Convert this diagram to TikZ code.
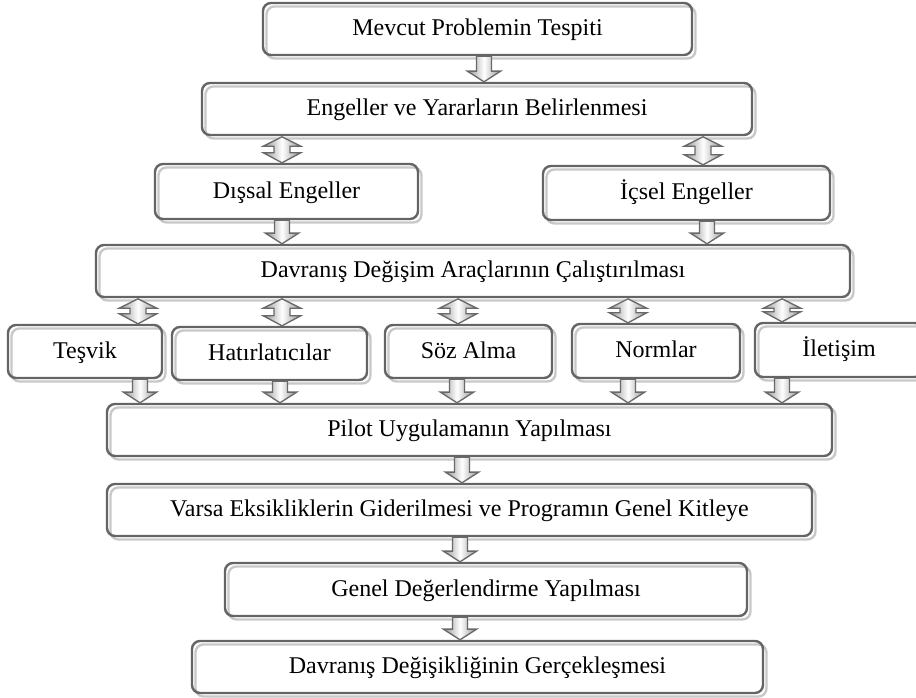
\documentclass[tikz,border=0pt]{standalone}
\usepackage{fontspec}
\setmainfont{Liberation Serif}
\usetikzlibrary{calc,shadows}
\definecolor{bord}{RGB}{100,100,100}
\definecolor{lite}{RGB}{200,200,200}
\definecolor{arrd}{RGB}{105,105,105}
\tikzset{
  box/.style={draw=bord, line width=1.8pt, rounded corners=6pt, inner sep=0pt,
    font=\fontsize{18}{21}\selectfont, text height=14pt, text depth=3.6pt,
    general shadow={shadow xshift=2.6pt, shadow yshift=-2.6pt, draw=lite, line width=1.8pt}},
  blk/.style={draw=arrd, line width=1pt, line join=miter, left color=gray!85, right color=gray!85, middle color=white}
}
% box: name, x1, y1, x2, y2 (pixels from top left), text
\newcommand\bx[6]{%
  \pgfmathsetmacro\boxW{(#4-#2)*0.75}\pgfmathsetmacro\boxH{(#5-#3)*0.75}%
  \node[box, minimum width=\boxW pt, minimum height=\boxH pt] (#1) at ({(#2+#4)/2},{-(#3+#5)/2}) {#6};}
% single down block arrow: x, source node, target node
\newcommand\sarr[3]{\path[blk] let \p1=(#1,0), \p2=(#2.south), \p3=(#3.north) in
  (\x1-5.6pt,\y2) -- (\x1+5.6pt,\y2) -- (\x1+5.6pt,\y3+8pt) -- (\x1+12.5pt,\y3+8pt) -- (\x1,\y3)
  -- (\x1-12.5pt,\y3+8pt) -- (\x1-5.6pt,\y3+8pt) -- cycle;}
% double block arrow
\newcommand\darr[3]{\path[blk] let \p1=(#1,0), \p2=(#2.south), \p3=(#3.north) in
  (\x1,\y2-0.5pt) -- (\x1+14pt,\y2-7.5pt) -- (\x1+6pt,\y2-7.5pt) -- (\x1+6pt,\y3+7.5pt) -- (\x1+14pt,\y3+7.5pt)
  -- (\x1,\y3) -- (\x1-14pt,\y3+7.5pt) -- (\x1-6pt,\y3+7.5pt) -- (\x1-6pt,\y2-7.5pt) -- (\x1-14pt,\y2-7.5pt) -- cycle;}
\begin{document}
\begin{tikzpicture}[x=0.75pt,y=0.75pt]
\useasboundingbox (0,0) rectangle (916,-698);
\bx{mev}{263}{3}{692}{55}{Mevcut Problemin Tespiti}
\bx{eng}{202}{83}{752}{135}{Engeller ve Yararların Belirlenmesi}
\bx{dis}{155}{164}{418}{219}{Dışsal Engeller}
\bx{ic}{543}{166}{830}{220}{İçsel Engeller}
\bx{dav}{96}{245}{850}{297}{Davranış Değişim Araçlarının Çalıştırılması}
\bx{tes}{8}{325}{162}{378}{Teşvik}
\bx{hat}{172}{327}{367}{380}{Hatırlatıcılar}
\bx{soz}{385}{325}{552}{378}{Söz Alma}
\bx{nor}{572}{324}{740}{378}{Normlar}
\bx{ile}{755}{323}{923}{377}{İletişim}
\bx{pil}{107}{404}{832}{456}{Pilot Uygulamanın Yapılması}
\bx{var}{107}{484}{812}{536}{Varsa Eksikliklerin Giderilmesi ve Programın Genel Kitleye}
\bx{gen}{225}{563}{747}{616}{Genel Değerlendirme Yapılması}
\bx{deg}{192}{641}{763}{693}{Davranış Değişikliğinin Gerçekleşmesi}
\sarr{484}{mev}{eng}
\darr{282}{eng}{dis}
\darr{703}{eng}{ic}
\sarr{282}{dis}{dav}
\sarr{707}{ic}{dav}
\darr{138}{dav}{tes}
\darr{282}{dav}{hat}
\darr{458}{dav}{soz}
\darr{628}{dav}{nor}
\darr{782}{dav}{ile}
\sarr{140}{tes}{pil}
\sarr{280}{hat}{pil}
\sarr{457}{soz}{pil}
\sarr{628}{nor}{pil}
\sarr{782}{ile}{pil}
\sarr{462}{pil}{var}
\sarr{460}{var}{gen}
\sarr{460}{gen}{deg}
\end{tikzpicture}
\end{document}
